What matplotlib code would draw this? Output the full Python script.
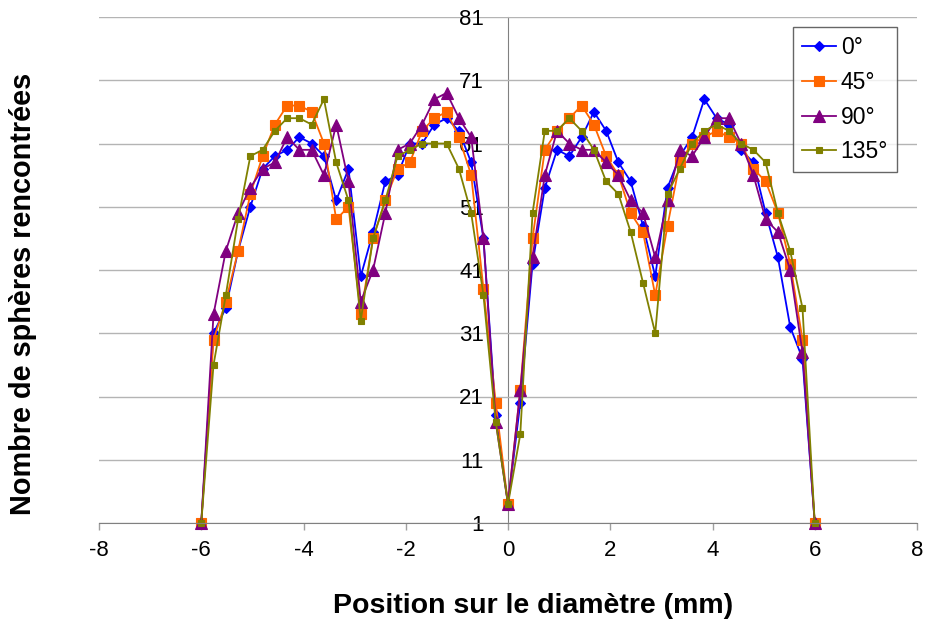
import numpy as np
import matplotlib
matplotlib.use("Agg")
import matplotlib.pyplot as plt

plt.rcParams['font.family'] = ['Liberation Sans', 'DejaVu Sans']

# Positions along the diameter (mm), 0.24 mm step from -6 to 6
position = np.round(np.linspace(-6, 6, 51), 2)

angle_labels = ["0°", "45°", "90°", "135°"]

counts_0 = [1, 31, 35, 44, 51, 57, 59, 60, 62, 61, 59, 52, 57, 40, 47, 55, 56, 61, 61, 64,
            65, 63, 58, 46, 18, 4, 20, 42, 54, 60, 59, 62, 66, 63, 58, 55, 48, 40, 54, 59,
            62, 68, 65, 64, 60, 58, 50, 43, 32, 27, 1]
counts_45 = [1, 30, 36, 44, 53, 59, 64, 67, 67, 66, 61, 49, 51, 34, 46, 52, 57, 58, 63, 65,
             66, 62, 56, 38, 20, 4, 22, 46, 60, 63, 65, 67, 64, 59, 56, 50, 47, 37, 48, 58,
             61, 62, 63, 62, 61, 57, 55, 50, 42, 30, 1]
counts_90 = [1, 34, 44, 50, 54, 57, 58, 62, 60, 60, 56, 64, 55, 36, 41, 50, 60, 61, 64, 68,
             69, 65, 62, 46, 17, 4, 22, 43, 56, 63, 61, 60, 60, 58, 56, 52, 50, 43, 52, 60,
             59, 62, 65, 65, 61, 56, 49, 47, 41, 28, 1]
counts_135 = [1, 26, 37, 49, 59, 60, 63, 65, 65, 64, 68, 58, 52, 33, 46, 52, 59, 60, 61, 61,
              61, 57, 50, 37, 17, 4, 15, 50, 63, 63, 65, 63, 60, 55, 53, 47, 39, 31, 53, 57,
              61, 63, 64, 63, 61, 60, 58, 50, 44, 35, 1]

x_ticks = list(range(-8, 9, 2))
y_ticks = list(range(1, 82, 10))

series = [counts_0, counts_45, counts_90, counts_135]
styles = [
    dict(color="#0000ff", marker="D", markersize=5.5),
    dict(color="#ff6600", marker="s", markersize=7),
    dict(color="#800080", marker="^", markersize=8),
    dict(color="#808000", marker="s", markersize=5),
]

fig = plt.figure(figsize=(9.27, 6.33), dpi=100)
ax = fig.add_axes([99 / 927, 1 - 523 / 633, (917 - 99) / 927, (523 - 17) / 633])

for values, label, st in zip(series, angle_labels, styles):
    ax.plot(position, values, label=label, linewidth=1.3, clip_on=False,
            markeredgewidth=0.8, markeredgecolor=st["color"], **st)

ax.set_xlim(-8, 8)
ax.set_ylim(1, 81)
ax.set_xticks(x_ticks)
ax.set_yticks(y_ticks)
ax.set_xticklabels([str(t) for t in x_ticks])
ax.set_yticklabels([str(t) for t in y_ticks])

ax.grid(axis="y", color="#b4b4b4", linewidth=1.0)
ax.set_axisbelow(True)

for side in ("top", "right"):
    ax.spines[side].set_visible(False)
ax.spines["left"].set_position(("data", 0))
ax.spines["bottom"].set_position(("data", 1))
ax.spines["left"].set_color("#808080")
ax.spines["bottom"].set_color("#808080")
ax.spines["left"].set_zorder(0.5)

ax.tick_params(axis="x", direction="out", length=5, width=1, color="#a0a0a0",
               labelsize=16, pad=7)
ax.tick_params(axis="y", direction="out", length=0, labelsize=16, pad=17.3)

fig.text(533.5 / 927, 1 - 606 / 633, "Position sur le diamètre (mm)", ha="center",
         va="center", fontsize=20.5, fontweight="bold")
fig.text(23 / 927, 1 - 294 / 633, "Nombre de sphères rencontrées", ha="center",
         va="center", rotation=90, fontsize=20.8, fontweight="bold")

leg = ax.legend(loc="upper left", bbox_to_anchor=(793 / 927, 1 - 27 / 633),
                bbox_transform=fig.transFigure, frameon=True, fancybox=False,
                edgecolor="#404040", fontsize=16.5, handlelength=1.5,
                borderpad=0.38, labelspacing=0.52, handletextpad=0.2,
                borderaxespad=0)
leg.get_frame().set_linewidth(1.0)

fig.savefig("out.png", dpi=100)
